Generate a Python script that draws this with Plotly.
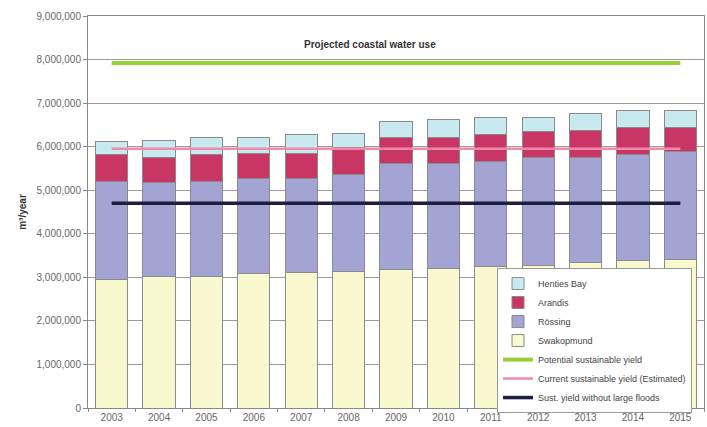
import plotly.graph_objects as go

years = ["2003", "2004", "2005", "2006", "2007", "2008", "2009",
         "2010", "2011", "2012", "2013", "2014", "2015"]

# segment values (m3/year)
swakopmund = [2940000, 3010000, 3010000, 3080000, 3120000, 3130000, 3170000,
              3200000, 3260000, 3280000, 3330000, 3390000, 3400000]
rossing = [2250000, 2160000, 2200000, 2180000, 2160000, 2240000, 2450000,
           2420000, 2390000, 2480000, 2430000, 2440000, 2480000]
arandis = [620000, 590000, 600000, 590000, 570000, 600000, 600000,
           600000, 640000, 580000, 600000, 600000, 550000]
henties_bay = [320000, 390000, 410000, 370000, 420000, 340000, 350000,
               410000, 370000, 340000, 410000, 390000, 390000]

potential_yield = [7920000] * len(years)
current_yield = [5950000] * len(years)
yield_no_floods = [4700000] * len(years)

y_ticks = [0, 1000000, 2000000, 3000000, 4000000, 5000000,
           6000000, 7000000, 8000000, 9000000]
y_tick_text = ["0", "1,000,000", "2,000,000", "3,000,000", "4,000,000",
               "5,000,000", "6,000,000", "7,000,000", "8,000,000", "9,000,000"]

FONT = "Liberation Sans, Arial, sans-serif"
outline = dict(color="#8a8a8a", width=1)

fig = go.Figure()
fig.add_trace(go.Bar(x=years, y=swakopmund, name="Swakopmund",
                     marker=dict(color="#FAF8CF", line=outline), legendrank=4))
fig.add_trace(go.Bar(x=years, y=rossing, name="Rössing",
                     marker=dict(color="#A3A3D4", line=outline), legendrank=3))
fig.add_trace(go.Bar(x=years, y=arandis, name="Arandis",
                     marker=dict(color="#C93665", line=outline), legendrank=2))
fig.add_trace(go.Bar(x=years, y=henties_bay, name="Henties Bay",
                     marker=dict(color="#C9E9F1", line=outline), legendrank=1))
fig.add_trace(go.Scatter(x=years, y=potential_yield, mode="lines",
                         name="Potential sustainable yield",
                         line=dict(color="#9ACD3A", width=4), legendrank=5))
fig.add_trace(go.Scatter(x=years, y=current_yield, mode="lines",
                         name="Current sustainable yield (Estimated)",
                         line=dict(color="#F08AA8", width=2.5), legendrank=6))
fig.add_trace(go.Scatter(x=years, y=yield_no_floods, mode="lines",
                         name="Sust. yield without large floods",
                         line=dict(color="#1E1E40", width=3.5), legendrank=7))

fig.update_layout(
    width=707, height=427,
    margin=dict(l=88, r=3, t=16, b=19),
    barmode="stack", bargap=0.32,
    paper_bgcolor="white", plot_bgcolor="white",
    font=dict(family=FONT, size=10, color="#555"),
    showlegend=True,
    legend=dict(x=0.664, y=0.357, xanchor="left", yanchor="top",
                traceorder="normal",
                bgcolor="white", bordercolor="#999", borderwidth=1,
                font=dict(size=9, color="#444"), itemwidth=30,
                tracegroupgap=0),
    annotations=[dict(text="<b>Projected coastal water use</b>",
                      x=(370 - 88) / 616, y=(408 - 37) / 392,
                      xref="paper", yref="paper", showarrow=False,
                      font=dict(size=10, color="#333"))],
)

fig.update_yaxes(range=[0, 9000000], tickvals=y_ticks, ticktext=y_tick_text,
                 showgrid=True, gridcolor="#9a9a9a", gridwidth=1,
                 showline=True, linecolor="#888", mirror=True,
                 ticks="outside", ticklen=4, tickcolor="#888",
                 tickfont=dict(size=10, color="#666"), zeroline=False,
                 title=dict(text="<b>m³/year</b>", font=dict(size=10, color="#333"),
                            standoff=8))
fig.update_xaxes(showline=True, linecolor="#888", mirror=True,
                 ticks="outside", ticklen=3, tickcolor="#888",
                 tickson="boundaries", showgrid=False,
                 tickfont=dict(size=10, color="#666"))

fig.write_html("out.html")
